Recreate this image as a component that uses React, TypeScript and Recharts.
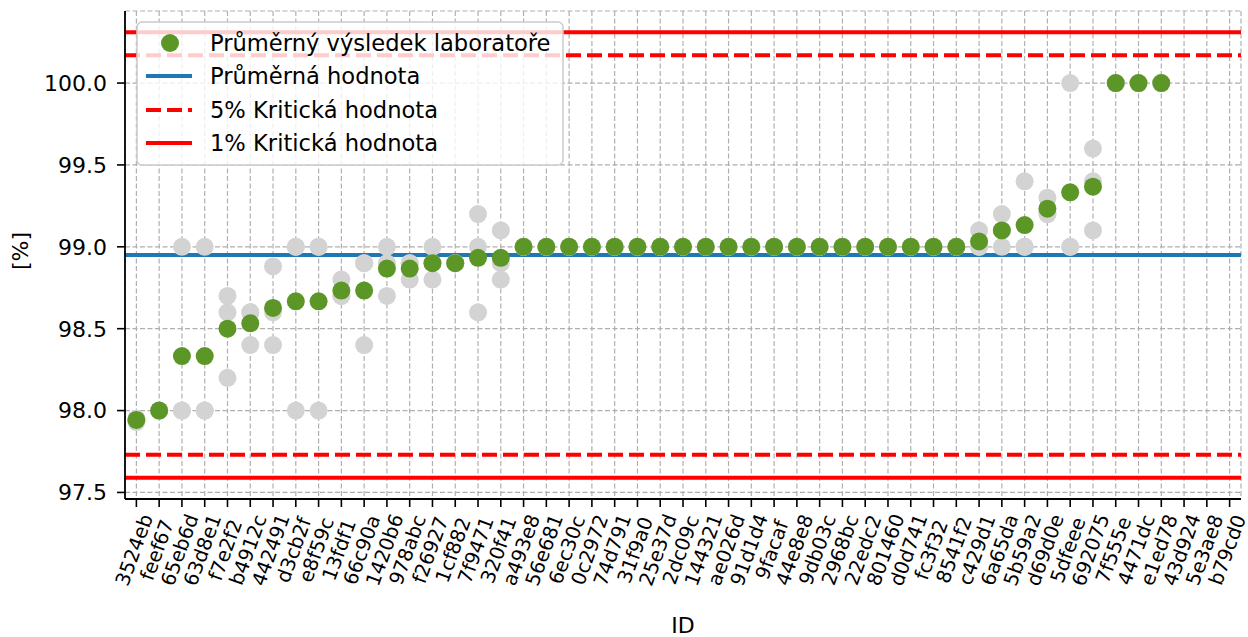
import { ComposedChart, Line, XAxis, YAxis, CartesianGrid, ReferenceLine } from 'recharts'

const FONT = '"DejaVu Sans", sans-serif'

const ids = [
  '3524eb', 'feef67', '65eb6d', '63d8e1', 'f7e2f2', 'b4912c', '442491', 'd3cb2f', 'e8f59c', '13fdf1',
  '66c90a', '1420b6', '978abc', 'f26927', '1cf882', '7f9471', '320f41', 'a493e8', '56e681', '6ec30c',
  '0c2972', '74d791', '31f9a0', '25e37d', '2dc09c', '144321', 'ae026d', '91d1d4', '9facaf', '44e8e8',
  '9db03c', '2968bc', '22edc2', '801460', 'd0d741', 'fc3f32', '8541f2', 'c429d1', '6a65da', '5b59a2',
  'd69d0e', '5dfeee', '692075', '7f555e', '4471dc', 'e1ed78', '43d924', '5e3ae8', 'b79cd0',
]

// průměr laboratoře (zelené body)
const labMean = [
  97.943, 98.0, 98.333, 98.333, 98.5, 98.533, 98.627, 98.667, 98.667, 98.733,
  98.733, 98.867, 98.867, 98.9, 98.9, 98.933, 98.933, 99.0, 99.0, 99.0,
  99.0, 99.0, 99.0, 99.0, 99.0, 99.0, 99.0, 99.0, 99.0, 99.0,
  99.0, 99.0, 99.0, 99.0, 99.0, 99.0, 99.0, 99.033, 99.1, 99.133,
  99.233, 99.333, 99.367, 100.0, 100.0, 100.0, null, null, null,
]

// jednotlivé výsledky (šedé body)
const result1 = [
  97.93, 98.0, 99.0, 99.0, 98.7, 98.6, 98.88, 99.0, 99.0, 98.8,
  98.9, 99.0, 98.9, 99.0, 98.9, 99.2, 99.1, 99.0, 99.0, 99.0,
  99.0, 99.0, 99.0, 99.0, 99.0, 99.0, 99.0, 99.0, 99.0, 99.0,
  99.0, 99.0, 99.0, 99.0, 99.0, 99.0, 99.0, 99.1, 99.2, 99.4,
  99.3, 100.0, 99.6, 100.0, 100.0, 100.0, null, null, null,
]
const result2 = [
  97.95, 98.0, 98.0, 98.0, 98.6, 98.6, 98.6, 99.0, 99.0, 98.7,
  98.9, 98.9, 98.9, 98.9, 98.9, 99.0, 98.9, 99.0, 99.0, 99.0,
  99.0, 99.0, 99.0, 99.0, 99.0, 99.0, 99.0, 99.0, 99.0, 99.0,
  99.0, 99.0, 99.0, 99.0, 99.0, 99.0, 99.0, 99.0, 99.1, 99.0,
  99.2, 99.0, 99.4, 100.0, 100.0, 100.0, null, null, null,
]
const result3 = [
  97.95, 98.0, 98.0, 98.0, 98.2, 98.4, 98.4, 98.0, 98.0, 98.7,
  98.4, 98.7, 98.8, 98.8, 98.9, 98.6, 98.8, 99.0, 99.0, 99.0,
  99.0, 99.0, 99.0, 99.0, 99.0, 99.0, 99.0, 99.0, 99.0, 99.0,
  99.0, 99.0, 99.0, 99.0, 99.0, 99.0, 99.0, 99.0, 99.0, 99.0,
  99.2, 99.0, 99.1, 100.0, 100.0, 100.0, null, null, null,
]

const meanValue = 98.95
const crit5 = [97.73, 100.17]
const crit1 = [97.59, 100.31]
const yTicks = [97.5, 98.0, 98.5, 99.0, 99.5, 100.0]
const yDomain = [97.46, 100.44]

const legendNames = ['Průměrný výsledek laboratoře', 'Průměrná hodnota', '5% Kritická hodnota', '1% Kritická hodnota']

const GREEN = '#5b9627'
const GRAY = '#d3d3d3'
const BLUE = '#1f77b4'
const RED = '#ff0000'

const rows = ids.map((id, i) => ({
  id,
  mean: labMean[i],
  r1: result1[i],
  r2: result2[i],
  r3: result3[i],
}))

function IdTick(props: any) {
  const { x, y, payload } = props
  const cx = x - 2
  const cy = y + 41
  return (
    <text
      x={cx}
      y={cy}
      transform={`rotate(-70 ${cx} ${cy})`}
      textAnchor="middle"
      dominantBaseline="central"
      fontSize={19.6}
      fill="#000"
    >
      {payload.value}
    </text>
  )
}

function YLabel(props: any) {
  const vb = props.viewBox || { x: 0, y: 11, width: 125, height: 488 }
  const cx = vb.x + 20
  const cy = vb.y + vb.height / 2 - 4
  return (
    <text x={cx} y={cy} transform={`rotate(-90 ${cx} ${cy})`} textAnchor="middle" dominantBaseline="central" fontSize={22} fill="#000">
      [%]
    </text>
  )
}

function LegendBox() {
  const rowsY = [22, 55, 89, 122]
  return (
    <svg width={428} height={146} style={{ position: 'absolute', left: 136, top: 21 }}>
      <rect x={1} y={1} width={426} height={143} rx={5} fill="rgba(255,255,255,0.8)" stroke="#cccccc" strokeWidth={1.5} />
      <circle cx={34} cy={rowsY[0]} r={9} fill={GREEN} />
      <line x1={10} x2={56} y1={rowsY[1]} y2={rowsY[1]} stroke={BLUE} strokeWidth={4} />
      <line x1={10} x2={56} y1={rowsY[2]} y2={rowsY[2]} stroke={RED} strokeWidth={4} strokeDasharray="15 6" />
      <line x1={10} x2={56} y1={rowsY[3]} y2={rowsY[3]} stroke={RED} strokeWidth={4} />
      {legendNames.map((n, i) => (
        <text key={n} x={74} y={rowsY[i]} dominantBaseline="central" fontSize={22.6} fill="#000">
          {n}
        </text>
      ))}
    </svg>
  )
}

export default function App() {
  return (
    <div style={{ position: 'absolute', left: 0, top: 0, width: 1248, height: 637, fontFamily: FONT, background: '#fff' }}>
      <ComposedChart width={1248} height={637} data={rows} margin={{ top: 11, right: 7, bottom: 0, left: 0 }}>
        <CartesianGrid stroke="#b0b0b0" strokeWidth={1.2} strokeDasharray="5 2.5" />
        <XAxis
          dataKey="id"
          scale="band"
          interval={0}
          height={138}
          tick={<IdTick />}
          tickSize={8}
          tickLine={{ stroke: '#000', strokeWidth: 1.6 }}
          axisLine={{ stroke: '#000', strokeWidth: 1.8 }}
          label={{ value: 'ID', position: 'insideBottom', offset: 4, fontSize: 22, fill: '#000' }}
        />
        <XAxis xAxisId="top" dataKey="id" scale="band" orientation="top" height={0} tick={false} tickLine={false} axisLine={{ stroke: '#000', strokeWidth: 1.8 }} />
        <YAxis
          type="number"
          domain={yDomain}
          ticks={yTicks}
          allowDataOverflow
          width={125}
          tickSize={8}
          tickMargin={10}
          tickFormatter={(v: number) => v.toFixed(1)}
          tick={{ fontSize: 22, fill: '#000' }}
          tickLine={{ stroke: '#000', strokeWidth: 1.6 }}
          axisLine={{ stroke: '#000', strokeWidth: 1.8 }}
          label={<YLabel />}
        />
        <YAxis yAxisId="right" orientation="right" type="number" domain={yDomain} width={0} tick={false} tickLine={false} axisLine={{ stroke: '#000', strokeWidth: 1.8 }} />
        <Line dataKey="r1" stroke="none" dot={{ r: 9, fill: GRAY, stroke: 'none' }} activeDot={false} isAnimationActive={false} />
        <Line dataKey="r2" stroke="none" dot={{ r: 9, fill: GRAY, stroke: 'none' }} activeDot={false} isAnimationActive={false} />
        <Line dataKey="r3" stroke="none" dot={{ r: 9, fill: GRAY, stroke: 'none' }} activeDot={false} isAnimationActive={false} />
        <Line dataKey="mean" stroke="none" dot={{ r: 9, fill: GREEN, stroke: 'none' }} activeDot={false} isAnimationActive={false} />
        <ReferenceLine y={meanValue} stroke={BLUE} strokeWidth={4} zIndex={450} />
        <ReferenceLine y={crit5[0]} stroke={RED} strokeWidth={4} strokeDasharray="15 6" zIndex={450} />
        <ReferenceLine y={crit5[1]} stroke={RED} strokeWidth={4} strokeDasharray="15 6" zIndex={450} />
        <ReferenceLine y={crit1[0]} stroke={RED} strokeWidth={4} zIndex={450} />
        <ReferenceLine y={crit1[1]} stroke={RED} strokeWidth={4} zIndex={450} />
      </ComposedChart>
      <LegendBox />
    </div>
  )
}
